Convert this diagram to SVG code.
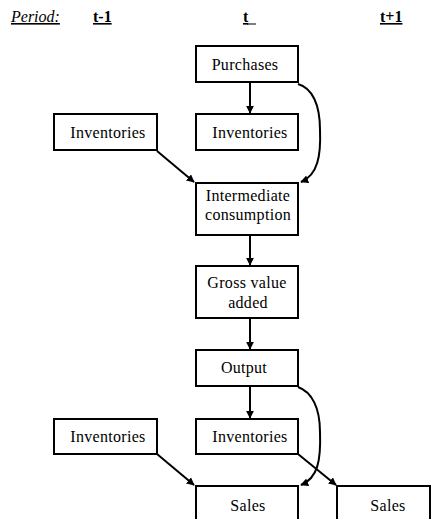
<svg xmlns="http://www.w3.org/2000/svg" width="431" height="519" viewBox="0 0 431 519">
<style>
.box{fill:#fff;stroke:#000;stroke-width:2}
.t{font-family:"Liberation Serif","Times New Roman",serif;font-size:16px;letter-spacing:0.3px;fill:#000;text-anchor:middle}
.h{font-family:"Liberation Serif","Times New Roman",serif;font-size:16px;fill:#000;text-decoration:underline}
.c{fill:none;stroke:#000;stroke-width:2}
</style>
<defs>
<marker id="ah" viewBox="0 0 10 10" refX="9" refY="5" markerWidth="4" markerHeight="4" orient="auto" markerUnits="strokeWidth">
<path d="M0,0 L10,5 L0,10 z" fill="#000"/>
</marker>
</defs>
<rect width="431" height="519" fill="#fff"/>
<g id="header">
<text class="h" x="11" y="22" font-style="italic">Period:</text>
<text class="h" x="93" y="22" font-weight="bold" font-size="15">t-1</text>
<text class="h" x="243" y="22" font-weight="bold" font-size="15">t</text>
<line x1="247" y1="24" x2="256" y2="24" stroke="#000" stroke-width="1"/>
<text class="h" x="380" y="22" font-weight="bold" font-size="15">t+1</text>
</g>
<g id="connectors">
<line class="c" x1="250" y1="82" x2="250" y2="113" marker-end="url(#ah)"/>
<path class="c" d="M298,84 C312,88 320,104 320,130 C321,155 318,175 301,182" marker-end="url(#ah)"/>
<line class="c" x1="157" y1="151" x2="194" y2="182" marker-end="url(#ah)"/>
<line class="c" x1="250" y1="235" x2="250" y2="265" marker-end="url(#ah)"/>
<line class="c" x1="250" y1="318" x2="250" y2="349" marker-end="url(#ah)"/>
<line class="c" x1="250" y1="386" x2="250" y2="418" marker-end="url(#ah)"/>
<path class="c" d="M298,387 C312,392 320,408 320,432 C321,460 318,478 301,485" marker-end="url(#ah)"/>
<line class="c" x1="157" y1="454" x2="194" y2="485" marker-end="url(#ah)"/>
<line class="c" x1="298" y1="454" x2="336" y2="485" marker-end="url(#ah)"/>
</g>
<g id="purchases"><rect class="box" x="196" y="46" width="102" height="36"/><text class="t" x="245" y="70">Purchases</text></g>
<g id="inventories_t"><rect class="box" x="196" y="114" width="102" height="36"/><text class="t" x="250" y="138">Inventories</text></g>
<g id="inventories_t1"><rect class="box" x="54" y="114" width="103" height="36"/><text class="t" x="108" y="138">Inventories</text></g>
<g id="intermediate"><rect class="box" x="196" y="183" width="102" height="52"/><text class="t" x="248" y="201">Intermediate</text><text class="t" x="248" y="220">consumption</text></g>
<g id="gva"><rect class="box" x="196" y="266" width="102" height="52"/><text class="t" x="247" y="288">Gross value</text><text class="t" x="248" y="308">added</text></g>
<g id="output"><rect class="box" x="196" y="350" width="102" height="36"/><text class="t" x="244" y="373">Output</text></g>
<g id="inventories_t_low"><rect class="box" x="196" y="419" width="102" height="35"/><text class="t" x="250" y="442">Inventories</text></g>
<g id="inventories_t1_low"><rect class="box" x="54" y="419" width="103" height="35"/><text class="t" x="108" y="442">Inventories</text></g>
<g id="sales_t"><rect class="box" x="196" y="486" width="102" height="40"/><text class="t" x="248" y="511">Sales</text></g>
<g id="sales_t1"><rect class="box" x="337" y="486" width="93" height="40"/><text class="t" x="388" y="511">Sales</text></g>
</svg>
